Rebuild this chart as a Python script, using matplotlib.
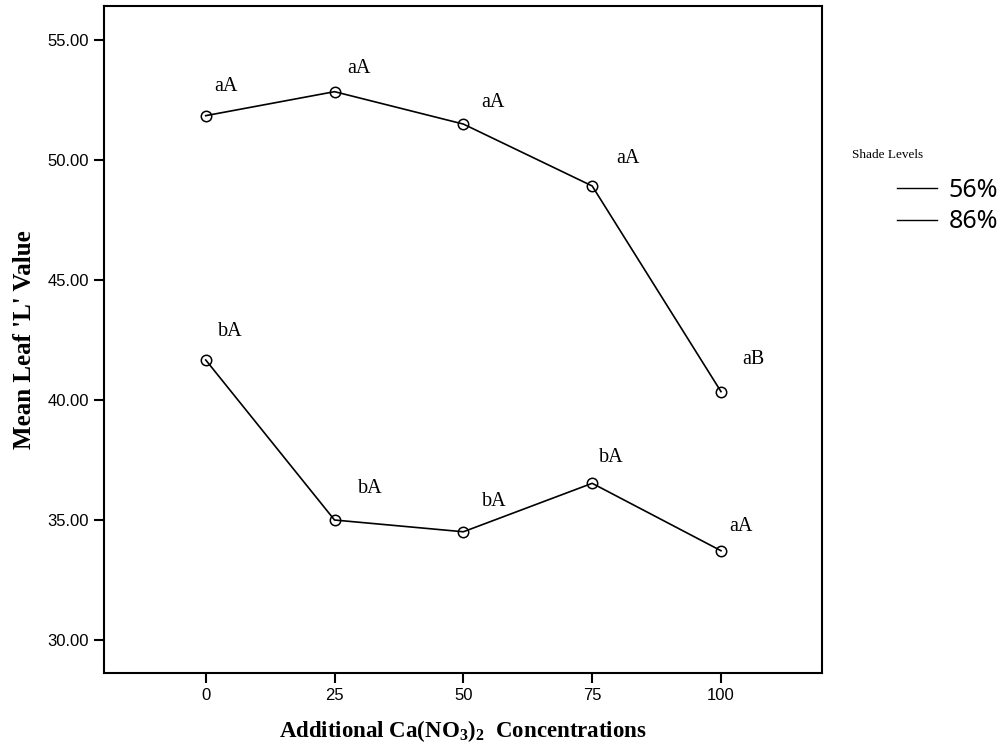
import matplotlib
matplotlib.use("Agg")
import matplotlib.pyplot as plt

plt.rcParams["mathtext.fontset"] = "custom"
plt.rcParams["mathtext.rm"] = "Liberation Serif:bold"
plt.rcParams["mathtext.it"] = "Liberation Serif:bold"
plt.rcParams["mathtext.bf"] = "Liberation Serif:bold"
plt.rcParams["mathtext.default"] = "rm"

# ---- data ----
concentrations = [0, 25, 50, 75, 100]
shade_levels = ["56%", "86%"]
mean_L_56 = [51.85, 52.85, 51.50, 48.92, 40.35]
mean_L_86 = [41.67, 35.00, 34.51, 36.53, 33.72]
letters_56 = ["aA", "aA", "aA", "aA", "aB"]
letters_86 = ["bA", "bA", "bA", "bA", "aA"]
y_ticks = [30, 35, 40, 45, 50, 55]
x_ticks = [0, 25, 50, 75, 100]

# label offsets (pixels) - styling only
off_56 = [(20, 29), (24, 23), (30, 22), (36, 27), (32, 32)]
off_86 = [(25, 28), (36, 32), (31, 30), (19, 26), (20, 24)]

W, H = 1006, 746
fig = plt.figure(figsize=(W / 100, H / 100), dpi=100)
left, right, top, bottom = 104, 822, 6, 673
ax = fig.add_axes([left / W, 1 - bottom / H, (right - left) / W, (bottom - top) / H])

line_kw = dict(color="black", lw=1.2, marker="o", markersize=7.5,
               markerfacecolor="none", markeredgecolor="black", markeredgewidth=1.1)
l1, = ax.plot(concentrations, mean_L_56, **line_kw)
l2, = ax.plot(concentrations, mean_L_86, **line_kw)

serif = "Liberation Serif"
sans = "Liberation Sans"
for xs, ys, labs, offs in [(concentrations, mean_L_56, letters_56, off_56),
                           (concentrations, mean_L_86, letters_86, off_86)]:
    for x, y, t, (dx, dy) in zip(xs, ys, labs, offs):
        ax.annotate(t, (x, y), xytext=(dx, dy), textcoords="offset pixels",
                    ha="center", va="center", fontsize=14.5, family=serif)

ax.set_xlim(-19.74, 119.6)
ax.set_ylim(28.625, 56.42)
ax.set_xticks(x_ticks)
ax.set_xticklabels([str(v) for v in x_ticks], family=sans, fontsize=12)
ax.set_yticks(y_ticks)
ax.set_yticklabels([f"{v:.2f}" for v in y_ticks], family=sans, fontsize=12)
ax.tick_params(direction="out", length=7, width=1.5, pad=4)
for s in ax.spines.values():
    s.set_linewidth(1.5)

ax.set_ylabel("Mean Leaf 'L' Value", family=serif, fontweight="bold", fontsize=18, labelpad=8)
ax.set_xlabel(r"Additional Ca(NO$_3$)$_2$  Concentrations", family=serif,
              fontweight="bold", fontsize=16.5, labelpad=11)

# legend
fig.text(888 / W, 1 - 155 / H, "Shade Levels", family=serif, fontsize=9.5,
         ha="center", va="center")
leg = fig.legend([l1, l2], shade_levels, loc="upper left",
                 bbox_to_anchor=(897 / W, 1 - 178 / H), frameon=False,
                 prop={"family": "Noto Sans", "size": 18},
                 handlelength=1.6, handletextpad=0.45, labelspacing=0.25,
                 borderpad=0, borderaxespad=0)
for h in leg.legend_handles:
    h.set_marker("")
    h.set_linewidth(1.0)

fig.savefig("out.png", dpi=100)
